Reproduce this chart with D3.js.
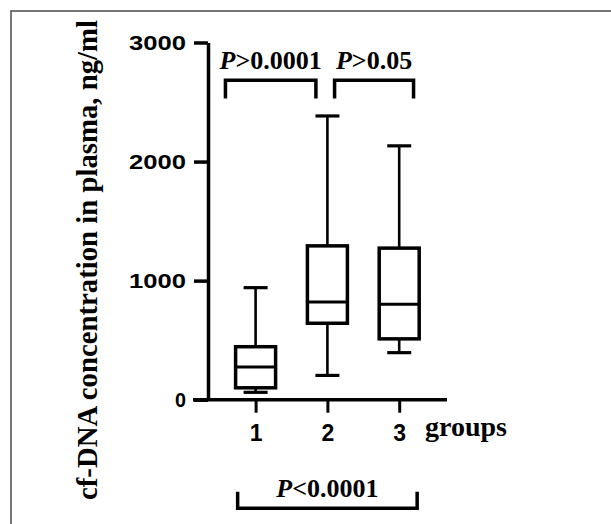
<!DOCTYPE html>
<html>
<head>
<meta charset="utf-8">
<script src="https://cdn.jsdelivr.net/npm/d3@7"></script>
<style>
  body { margin: 0; background: #fff; }
  .sans { font-family: "Liberation Sans", Arial, sans-serif; font-weight: bold; }
  .serif { font-family: "Liberation Serif", "Times New Roman", serif; font-weight: bold; }
</style>
</head>
<body>
<div id="chart"></div>
<script>
// groups and box plot values (ng/ml)
var groups = ["1", "2", "3"];
var whiskerLow = [62, 204, 395];
var q1 = [100, 642, 511];
var median = [275, 820, 801];
var q3 = [445, 1292, 1273];
var whiskerHigh = [941, 2383, 2132];
var yTicks = [0, 1000, 2000, 3000];

// significance brackets: start / end in group units, values in ng/ml
var bracketLabels = [">0.0001", ">0.05", "<0.0001"];
var bracketFrom = [0.58, 2.1, 0.75];
var bracketTo = [1.84, 3.2, 3.25];
var bracketLine = [2682, 2682, -912];
var bracketTip = [2530, 2530, -773];

var svgWidth = 611;
var svgHeight = 524;

var svg = d3.select("#chart")
  .append("svg")
  .attr("width", svgWidth)
  .attr("height", svgHeight);

// frame (top and left only)
svg.append("path")
  .attr("d", "M11,524V11H611")
  .attr("fill", "none")
  .attr("stroke", "#4a4a4a")
  .attr("stroke-width", 1.5);

var yScale = d3.scaleLinear()
  .domain([0, 3000])
  .range([399.7, 42.5]);

// group units -> pixels
var xScale = d3.scaleLinear()
  .domain([1, 3])
  .range([255.6, 399.2]);

var xPoint = d3.scalePoint()
  .domain(groups)
  .range([xScale(1), xScale(3)]);

var axisX0 = 208;

// y axis
var leftAxis = d3.axisLeft(yScale)
  .tickValues(yTicks)
  .tickFormat(d3.format("d"))
  .tickSize(14)
  .tickSizeOuter(0)
  .tickPadding(8);

var yAxis = svg.append("g")
  .attr("transform", `translate(${axisX0}, 0)`)
  .call(leftAxis);

yAxis.select(".domain").attr("stroke-width", 3.5).attr("stroke", "#000");
yAxis.selectAll(".tick line").attr("stroke-width", 3.5).attr("stroke", "#000");
yAxis.selectAll(".tick text")
  .attr("class", "sans")
  .attr("font-size", 21)
  .attr("fill", "#000")
  .attr("dy", "0.34em")
  .each(function(d) {
    if (d >= 1000) {
      d3.select(this).attr("textLength", 57).attr("lengthAdjust", "spacingAndGlyphs");
    } else {
      d3.select(this).attr("textLength", 11).attr("lengthAdjust", "spacingAndGlyphs");
    }
  });

// x axis
var bottomAxis = d3.axisBottom(xPoint)
  .tickSize(13)
  .tickSizeOuter(0)
  .tickPadding(12);

var xAxis = svg.append("g")
  .attr("transform", `translate(0, ${yScale(0)})`)
  .call(bottomAxis);

xAxis.select(".domain").remove();
xAxis.selectAll(".tick line").attr("stroke-width", 3).attr("stroke", "#000");
xAxis.selectAll(".tick text")
  .attr("class", "sans")
  .attr("font-size", 23)
  .attr("fill", "#000");

xAxis.append("line")
  .attr("x1", axisX0 - 15)
  .attr("x2", 447)
  .attr("y1", 0)
  .attr("y2", 0)
  .attr("stroke", "#000")
  .attr("stroke-width", 3.5);

svg.append("text")
  .attr("class", "serif")
  .attr("x", 425)
  .attr("y", 436)
  .attr("font-size", 28)
  .text("groups");

// y title
svg.append("text")
  .attr("class", "serif")
  .attr("transform", "translate(97, 260) rotate(-90)")
  .attr("text-anchor", "middle")
  .attr("font-size", 29)
  .attr("textLength", 480)
  .attr("lengthAdjust", "spacingAndGlyphs")
  .text("cf-DNA concentration in plasma, ng/ml");

// boxes
var boxWidth = 40;
var capWidth = 24;

var boxes = svg.append("g")
  .selectAll("g")
  .data(groups)
  .enter()
  .append("g");

boxes.append("line")
  .attr("x1", d => xPoint(d))
  .attr("x2", d => xPoint(d))
  .attr("y1", (d, i) => yScale(whiskerHigh[i]))
  .attr("y2", (d, i) => yScale(whiskerLow[i]))
  .attr("stroke", "#000")
  .attr("stroke-width", 2.6);

boxes.append("rect")
  .attr("x", d => xPoint(d) - boxWidth / 2)
  .attr("width", boxWidth)
  .attr("y", (d, i) => yScale(q3[i]))
  .attr("height", (d, i) => yScale(q1[i]) - yScale(q3[i]))
  .attr("fill", "#fff")
  .attr("stroke", "#000")
  .attr("stroke-width", 3.5);

boxes.append("line")
  .attr("x1", d => xPoint(d) - boxWidth / 2)
  .attr("x2", d => xPoint(d) + boxWidth / 2)
  .attr("y1", (d, i) => yScale(median[i]))
  .attr("y2", (d, i) => yScale(median[i]))
  .attr("stroke", "#000")
  .attr("stroke-width", 3);

[whiskerHigh, whiskerLow].forEach(function(vals) {
  boxes.append("line")
    .attr("x1", d => xPoint(d) - capWidth / 2)
    .attr("x2", d => xPoint(d) + capWidth / 2)
    .attr("y1", (d, i) => yScale(vals[i]))
    .attr("y2", (d, i) => yScale(vals[i]))
    .attr("stroke", "#000")
    .attr("stroke-width", 3.2);
});

// significance brackets
var brackets = svg.append("g")
  .selectAll("g")
  .data(bracketLabels)
  .enter()
  .append("g");

brackets.append("path")
  .attr("d", function(d, i) {
    var x1 = xScale(bracketFrom[i]);
    var x2 = xScale(bracketTo[i]);
    var yl = yScale(bracketLine[i]);
    var yt = yScale(bracketTip[i]);
    return `M${x1},${yt}V${yl}H${x2}V${yt}`;
  })
  .attr("fill", "none")
  .attr("stroke", "#000")
  .attr("stroke-width", 3.5);

var labels = brackets.append("text")
  .attr("class", "serif")
  .attr("font-size", 26)
  .attr("text-anchor", "middle")
  .attr("x", (d, i) => (xScale(bracketFrom[i]) + xScale(bracketTo[i])) / 2)
  .attr("y", (d, i) => yScale(bracketLine[i]) - 11.5);

labels.append("tspan")
  .attr("font-style", "italic")
  .text("P");
labels.append("tspan")
  .text(d => d);
</script>
</body>
</html>
